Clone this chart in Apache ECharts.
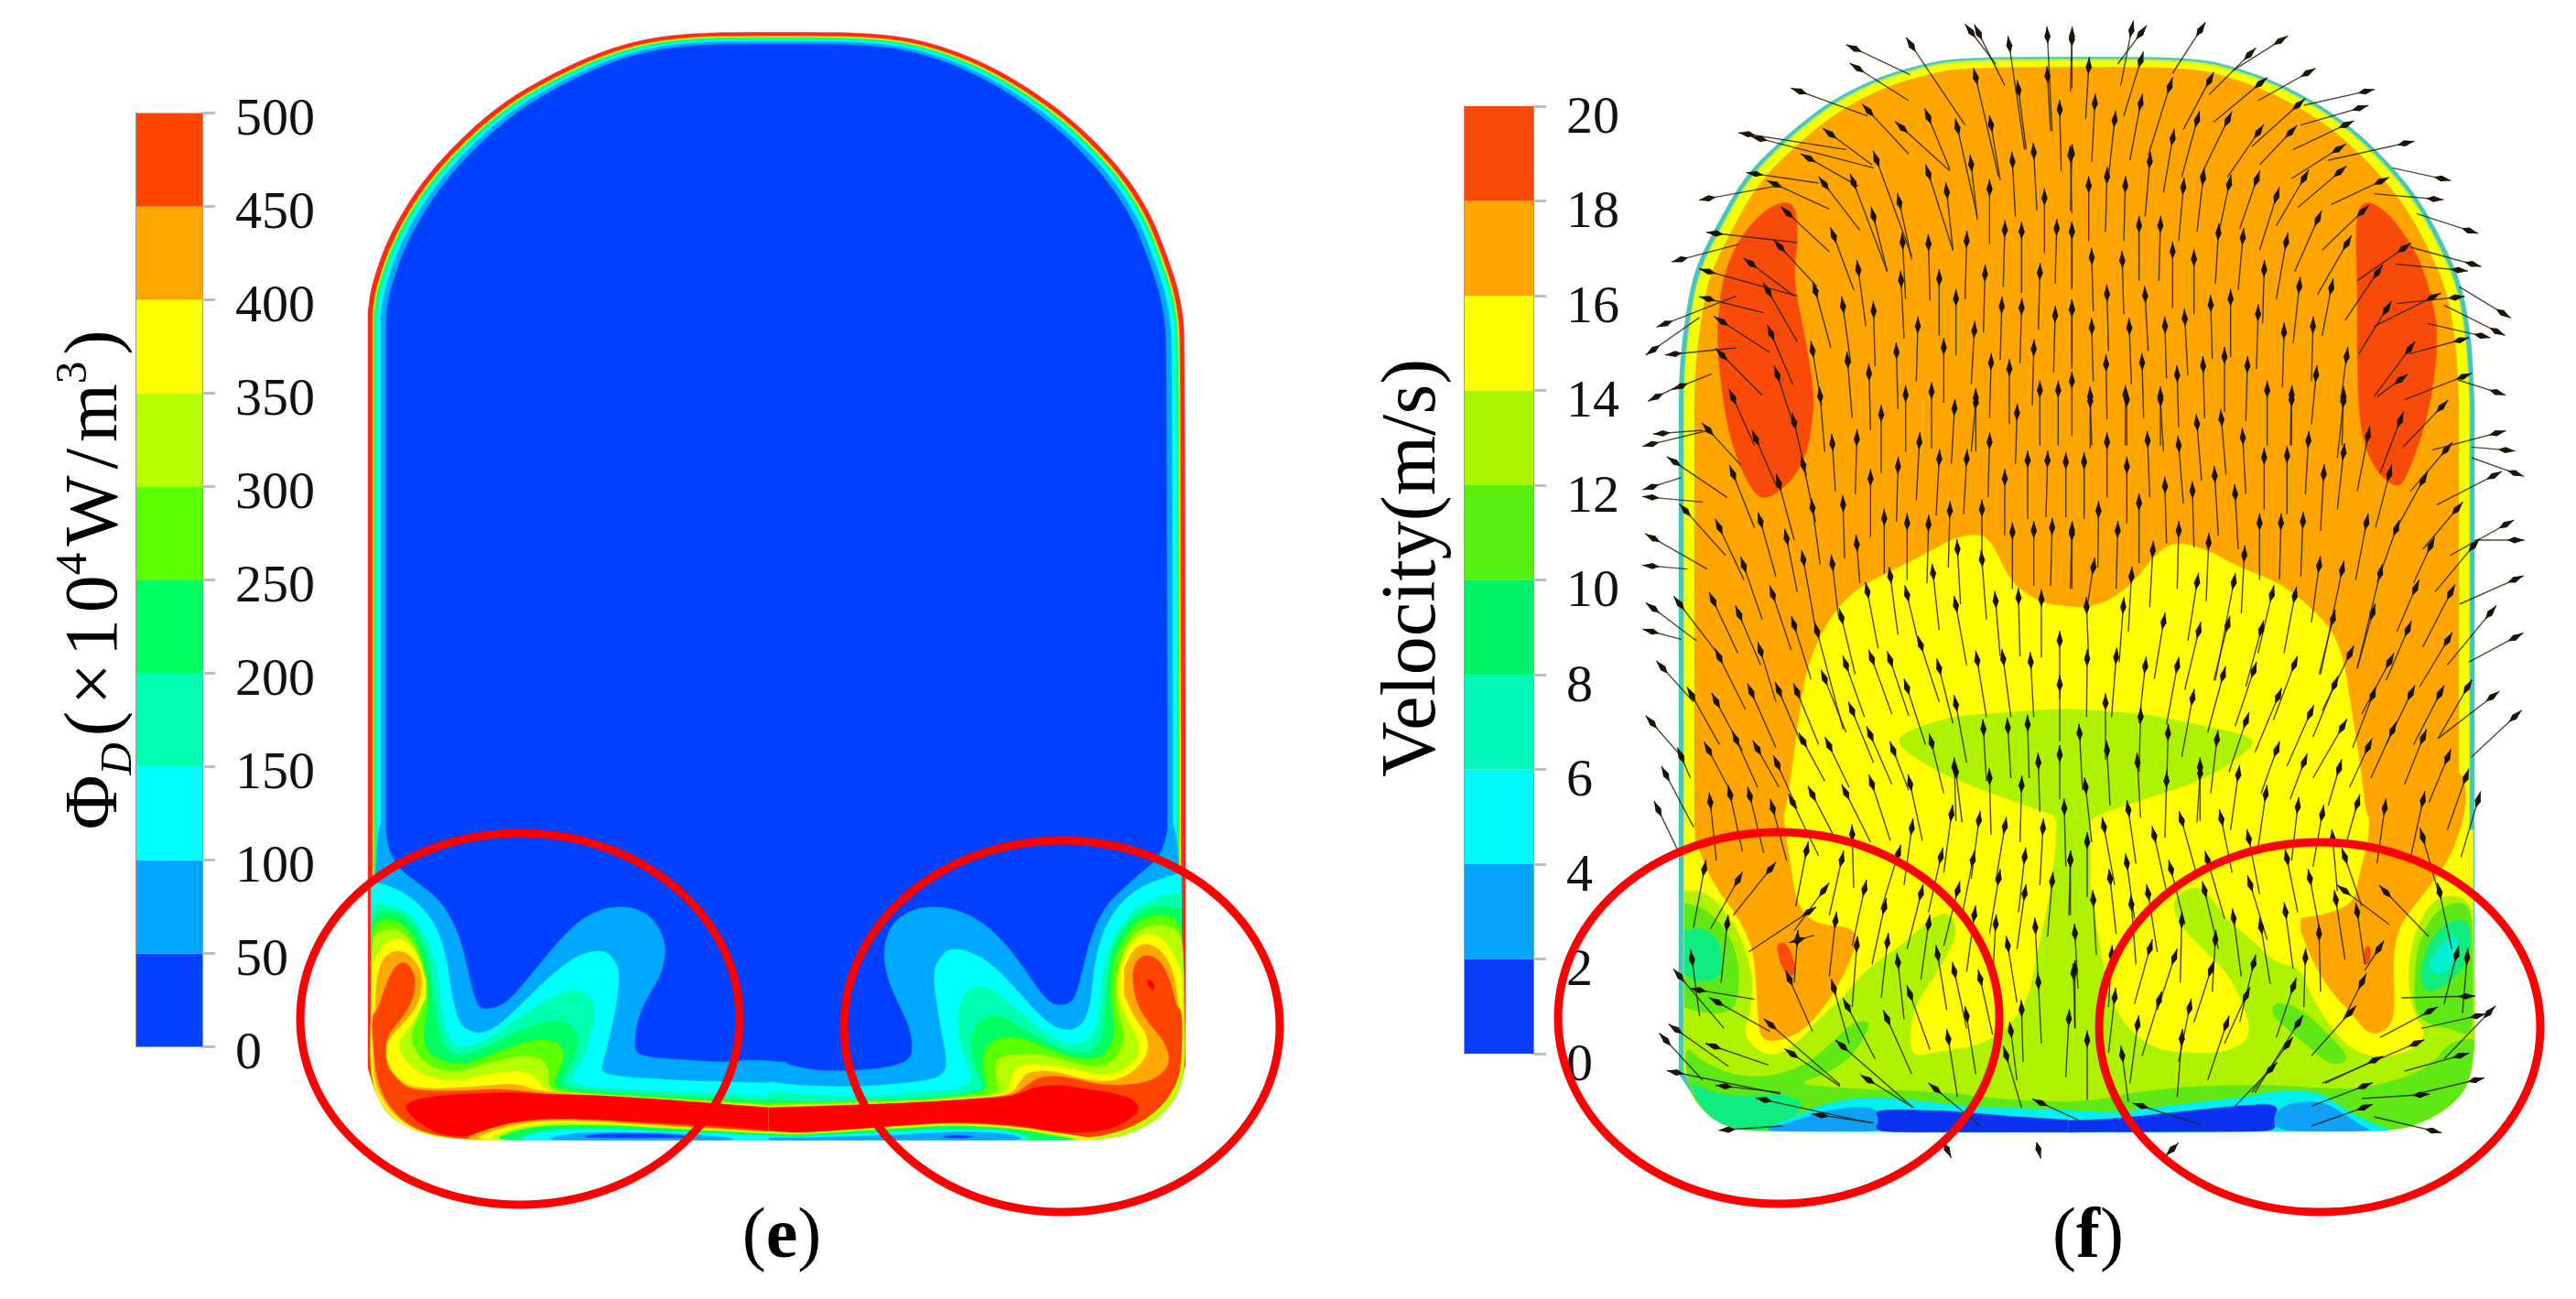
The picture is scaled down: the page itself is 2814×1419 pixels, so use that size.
<!DOCTYPE html>
<html>
<head>
<meta charset="utf-8">
<title>Dissipation and velocity contours</title>
<style>
  html, body { margin: 0; padding: 0; background: #fff; }
  #chart { width: 2814px; height: 1419px; }
</style>
<script src="https://cdn.jsdelivr.net/npm/echarts@6/dist/echarts.min.js"></script>
</head>
<body>
<div id="chart"></div>
<script>
// Colour bars
const barTicksE = [0, 50, 100, 150, 200, 250, 300, 350, 400, 450, 500];
const barTicksF = [0, 2, 4, 6, 8, 10, 12, 14, 16, 18, 20];
const barColorsE = ["#0040ff", "#00a8ff", "#00ffff", "#00ffb0", "#00ff60", "#5cff00", "#b4ff00", "#ffff00", "#ffa800", "#ff4400"];
const barColorsF = ["#0a3cf5", "#08a4fa", "#00f8f8", "#00f8b8", "#00f06a", "#58f010", "#aaf400", "#ffff00", "#ffa500", "#f84a08"];

// Shell outlines (page px)
const shellE = [[402,377],[402,340],[406,310],[427,252],[470,185],[539,118],[607,78],[675,49],[744,36],[850,35],[966,36],[1034,51],[1103,82],[1180,136],[1248,212],[1282,297],[1292,340],[1294,377],[1295,800],[1295,1163],[1287,1193],[1267,1220],[1233,1238],[1200,1245],[850,1245],[487,1243],[447,1233],[423,1217],[410,1193],[402,1167],[402,800]];
const shellF = [[1834,440],[1835,400],[1840,353],[1850,297],[1873,250],[1907,190],[1957,143],[2000,110],[2050,85],[2093,72],[2137,63],[2270,62],[2400,63],[2447,75],[2493,92],[2547,122],[2593,160],[2640,213],[2670,267],[2690,313],[2700,373],[2703,440],[2703,800],[2703,1140],[2698,1180],[2683,1203],[2653,1223],[2618,1235],[2270,1236],[1917,1235],[1883,1230],[1860,1213],[1845,1190],[1834,1173],[1834,800]];
const rimE = [[0,0,"#ff2a1a"],[5,4,"#c8f000"],[7,6,"#00ff90"],[10,8,"#00ffff"],[14,10,"#00a8ff"],[20,13,"#0040ff"]];
const rimF = [[0,0,"#48c4b8"],[5,2,"#a8ec60"],[6,4,"#f4ff00"],[17,11,"#ffa500"]];

// Panel e, lower left (crop units: 3 per px)
const eCornerL = [[1410,1035],[300,1033],[175,995],[110,940],[70,878],[50,800]];
const eL1 = [[62,150],[70,0],[92,0],[100,70],[125,130],[160,165],[215,205],[270,250],[315,320],[345,400],[370,510],[385,570],[405,610],[470,600],[520,555],[590,470],[660,385],[730,315],[800,280],[860,270],[920,278],[975,315],[1008,380],[1010,440],[990,505],[950,570],[925,625],[912,680],[908,745],[945,765],[1100,775],[1210,782],[1290,772],[1410,782],...eCornerL,[50,300]];
const eL2 = [[46,190],[100,200],[170,235],[230,290],[270,360],[295,450],[310,560],[330,640],[350,670],[400,690],[460,665],[540,590],[620,510],[700,445],[760,418],[815,415],[850,455],[860,500],[850,590],[830,690],[805,780],[800,810],[830,825],[1000,838],[1200,845],[1410,850],...eCornerL,[46,600]];
const eL3 = [[46,260],[90,258],[160,285],[215,345],[250,430],[270,530],[280,630],[300,710],[350,735],[420,710],[520,640],[620,575],[700,542],[745,545],[775,585],[775,650],[750,750],[715,810],[700,845],[750,862],[1000,875],[1200,885],[1410,895],...eCornerL];
const eL4 = [[46,300],[100,280],[160,300],[210,370],[235,450],[250,560],[260,640],[280,720],[310,760],[380,750],[460,715],[560,665],[640,640],[690,650],[725,685],[720,750],[690,800],[670,850],[710,870],[1000,890],[1410,910],...eCornerL];
const eL5 = [[46,325],[100,310],[150,325],[195,385],[222,470],[235,560],[225,640],[215,700],[235,755],[290,780],[350,790],[440,755],[530,720],[610,703],[670,720],[680,770],[660,810],[640,860],[700,878],[1000,895],[1410,920],...eCornerL];
const eL6 = [[46,370],[90,345],[135,345],[180,385],[215,460],[225,540],[205,620],[180,680],[180,720],[215,780],[280,810],[350,810],[440,780],[540,758],[600,765],[630,800],[625,845],[640,875],[700,880],[1000,900],[1410,925],...eCornerL];
const eL7 = [[48,460],[80,405],[110,380],[150,375],[195,420],[225,510],[225,570],[190,640],[145,700],[135,730],[160,780],[210,820],[280,840],[350,840],[430,820],[510,810],[570,815],[605,860],[635,880],[900,895],[1410,930],[1410,1035],[290,1033],[170,1000],[100,950],[60,880],[42,800],[46,600]];
const eL8 = [[60,600],[65,500],[85,440],[120,415],[165,420],[205,470],[215,520],[200,590],[165,640],[115,690],[92,730],[100,790],[130,830],[170,860],[240,868],[330,865],[430,858],[520,850],[590,875],[900,900],[1410,932],[1410,1035],[330,1033],[175,995],[108,940],[70,878],[52,810]];
const eL9 = [[46,630],[68,610],[90,540],[115,480],[145,450],[175,465],[192,510],[185,570],[155,625],[120,665],[93,710],[95,790],[125,830],[165,868],[240,875],[360,875],[450,868],[540,875],[610,885],[900,902],[1410,935],[1410,1035],[340,1033],[230,1015],[165,985],[110,930],[80,880],[58,800]];
const eCoreL = [[155,915],[230,895],[350,885],[500,880],[600,885],[800,890],[1000,903],[1200,918],[1410,935],[1410,1010],[1200,990],[1000,980],[800,970],[620,968],[520,980],[430,1010],[350,1025],[280,1020],[210,985],[170,950]];
const eW1 = [[340,1036],[420,1002],[520,976],[650,966],[800,971],[1000,986],[1410,1012],[1410,1036]];
const eW2 = [[380,1036],[440,1008],[530,982],[650,972],[800,977],[1000,990],[1410,1014],[1410,1036]];
const eW3 = [[420,1036],[480,1008],[560,988],[660,979],[800,982],[1000,993],[1410,1016],[1410,1036]];
const eW4 = [[440,1036],[520,1005],[620,988],[800,987],[1000,998],[1410,1019],[1410,1036]];
const eW5 = [[500,1036],[620,1004],[760,998],[1000,1006],[1410,1025],[1410,1036]];
const eW6 = [[600,1036],[720,1010],[1000,1012],[1200,1025],[1250,1036]];
const eW7 = [[720,1028],[800,1014],[1000,1015],[1120,1028]];

// Panel e, lower right (crop units)
const eCornerR = [[0,1035],[1060,1032],[1170,1008],[1270,952],[1330,875],[1352,790]];
const eR1 = [[1345,150],[1330,0],[1310,0],[1295,70],[1270,120],[1225,155],[1170,205],[1120,250],[1080,310],[1050,390],[1030,470],[1010,550],[990,590],[930,597],[880,540],[820,450],[750,365],[680,310],[610,280],[540,270],[470,280],[410,320],[385,370],[375,435],[390,510],[425,590],[455,650],[472,720],[465,770],[410,795],[300,808],[180,810],[110,800],[50,785],[0,778],...eCornerR,[1352,300]];
const eR2 = [[1352,160],[1300,175],[1230,200],[1160,250],[1110,320],[1080,400],[1065,480],[1055,580],[1035,650],[990,680],[930,665],[870,610],[800,530],[720,450],[650,415],[590,408],[560,440],[540,475],[545,560],[565,680],[585,780],[570,825],[500,845],[300,862],[100,858],[0,845],...eCornerR];
const eR3 = [[1352,225],[1290,235],[1220,260],[1170,310],[1120,390],[1095,480],[1085,580],[1075,660],[1040,715],[990,725],[920,695],[840,630],[750,555],[690,525],[640,555],[615,620],[620,700],[650,790],[670,850],[600,872],[300,895],[0,880],...eCornerR];
const eR4 = [[1352,280],[1280,265],[1210,290],[1160,340],[1120,410],[1110,500],[1100,600],[1095,690],[1060,750],[990,752],[920,720],[830,670],[760,625],[700,635],[665,680],[660,750],[690,830],[705,880],[500,898],[300,915],[0,905],...eCornerR];
const eR5 = [[1355,320],[1290,295],[1220,310],[1170,360],[1130,440],[1120,530],[1125,620],[1135,690],[1105,755],[1050,775],[970,760],[880,720],[800,695],[730,710],[700,750],[705,830],[720,880],[500,903],[0,915],...eCornerR];
const eR6 = [[1357,360],[1300,330],[1230,335],[1180,380],[1150,450],[1135,540],[1145,620],[1170,700],[1140,770],[1080,800],[1000,785],[900,755],[800,755],[740,770],[745,840],[760,885],[500,906],[0,922],[0,1035],[1080,1037],[1185,1017],[1285,962],[1345,880],[1365,790]];
const eR7 = [[1355,500],[1325,420],[1280,365],[1220,360],[1170,410],[1145,490],[1145,570],[1180,650],[1215,715],[1210,770],[1150,815],[1080,825],[980,800],[880,785],[810,795],[790,850],[780,888],[500,912],[0,926],[0,1035],[1060,1032],[1170,1008],[1270,952],[1330,875],[1355,790]];
const eR8 = [[1342,600],[1330,500],[1300,430],[1250,390],[1200,400],[1165,470],[1165,560],[1195,630],[1240,690],[1245,750],[1200,810],[1130,845],[1040,840],[940,810],[850,810],[820,850],[790,890],[500,914],[0,928],[0,1035],[1040,1030],[1150,1000],[1255,940],[1320,870],[1348,790]];
const eR9 = [[1355,610],[1335,600],[1320,530],[1290,455],[1240,425],[1200,450],[1190,510],[1205,590],[1250,660],[1295,710],[1315,770],[1300,810],[1240,850],[1100,860],[960,825],[880,830],[830,870],[790,893],[500,915],[0,930],[0,1035],[1000,1032],[1110,1020],[1210,985],[1290,925],[1335,855],[1352,790]];
const eCoreR = [[0,931],[200,925],[500,912],[780,895],[820,885],[880,860],[960,855],[1040,870],[1120,880],[1190,900],[1215,930],[1190,965],[1120,1000],[1040,1012],[950,1010],[800,985],[600,975],[400,990],[300,998],[100,1012],[0,1007]];
const eSpotR = [[1238,505],[1265,525],[1260,548],[1242,530]];
const eX1 = [[0,1007],[100,1014],[300,1000],[400,992],[600,980],[800,990],[950,1014],[1040,1026],[1080,1036],[0,1036]];
const eX2 = [[0,1011],[100,1016],[200,1008],[400,996],[600,984],[800,994],[950,1020],[1050,1036],[0,1036]];
const eX3 = [[0,1015],[100,1020],[300,1006],[600,988],[800,998],[960,1026],[1020,1036],[0,1036]];
const eX4 = [[0,1022],[100,1024],[350,1012],[600,998],[780,1005],[880,1036],[0,1036]];
const eX5 = [[0,1028],[100,1029],[400,1020],[600,1008],[780,1012],[850,1036],[0,1036]];
const eX6 = [[560,1026],[620,1018],[680,1026],[620,1030]];

// Panel f contours. Crop units, the mid crop is the reference for the yellow body
const fRedL = [[570,598],[605,620],[612,720],[600,820],[605,900],[635,1040],[665,1230],[660,1320],[640,1430],[590,1520],[500,1585],[450,1530],[400,1410],[370,1280],[350,1100],[350,1000],[365,850],[420,720],[500,630]];
const fRedR = [[970,595],[1030,625],[1080,680],[1140,770],[1180,880],[1205,1000],[1205,1100],[1190,1230],[1160,1360],[1100,1520],[1070,1535],[1020,1500],[970,1410],[950,1290],[945,1100],[945,900],[940,650]];
const fYellow = [[590,1260],[610,1100],[640,900],[700,760],[770,670],[840,620],[930,575],[1040,520],[1130,470],[1210,460],[1250,490],[1300,600],[1350,650],[1420,690],[1530,700],[1560,700],[1630,680],[1710,620],[1790,520],[1850,485],[1950,510],[2060,570],[2180,615],[2270,680],[2360,770],[2400,870],[2420,1000],[2440,1120],[2460,1260],[2480,1430],[2825,1430],[2825,2130],[2810,2240],[2765,2315],[2675,2375],[2570,2410],[480,2410],[375,2395],[305,2345],[260,2275],[240,2130],[240,1430],[560,1430]];
const fOrangeL = [[275,-10],[560,-10],[562,150],[590,330],[610,450],[670,510],[810,520],[790,620],[720,750],[640,850],[560,890],[490,890],[480,800],[470,600],[420,490],[330,370],[275,230]];
const fOrangeR = [[970,-10],[1290,-10],[1305,120],[1260,270],[1200,360],[1130,450],[1080,520],[1060,630],[1070,800],[1040,860],[980,870],[935,810],[850,720],[790,610],[760,530],[760,490],[870,470],[940,430],[950,350],[990,210]];
const fLime = [[240,400],[310,400],[395,490],[440,590],[465,690],[455,800],[430,880],[520,950],[610,900],[700,800],[760,750],[830,660],[950,580],[1060,480],[1110,470],[1140,540],[1060,680],[985,790],[975,945],[1060,930],[1240,900],[1360,785],[1402,584],[1444,384],[1465,156],[1423,142],[1234,75],[1065,8],[907,-99],[1107,-172],[1486,-199],[1760,-179],[2139,-99],[1970,22],[1823,75],[1612,142],[1570,169],[1570,384],[1612,651],[1660,820],[1780,925],[2000,935],[2110,880],[2040,690],[1940,590],[1870,520],[1830,430],[1930,370],[2010,490],[2100,560],[2180,640],[2260,650],[2290,740],[2380,880],[2470,945],[2590,940],[2680,880],[2620,780],[2610,650],[2640,510],[2710,410],[2825,425],[2830,900],[2815,1020],[2770,1090],[2680,1150],[2575,1185],[470,1188],[370,1170],[300,1120],[255,1050],[240,900]];
const fGreenBlobL = [[240,440],[290,450],[345,490],[395,560],[420,650],[415,760],[380,800],[300,800],[240,780]];
const fTealL = [[240,530],[300,520],[355,560],[365,640],[350,690],[280,700],[240,670]];
const fGreenBandL = [[235,900],[300,960],[400,1005],[520,1010],[640,970],[720,900],[790,830],[850,825],[830,880],[780,950],[700,1000],[600,1035],[830,1050],[1100,1060],[1300,1085],[1530,1092],[1530,1150],[470,1188],[370,1170],[300,1120],[255,1050]];
const fDeepGreenL = [[250,1020],[330,1060],[420,1075],[560,1060],[640,1100],[560,1170],[470,1188],[370,1170],[300,1120]];
const fCyanL = [[600,1140],[700,1095],[850,1072],[1000,1088],[1200,1108],[1530,1118],[1530,1190],[480,1188]];
const fSkyL = [[480,1186],[600,1155],[700,1120],[800,1108],[870,1112],[880,1150],[900,1188]];
const fBlueL = [[860,1115],[1100,1120],[1300,1138],[1530,1152],[1530,1190],[860,1190],[880,1150]];
const fSpotL = [[540,570],[580,570],[610,670],[580,680],[555,640]];
const fGreenBandR = [[0,1090],[100,1085],[200,1062],[400,1040],[640,1035],[900,1050],[1000,1040],[1120,1005],[1200,960],[1240,900],[1325,880],[1330,900],[1315,1020],[1270,1090],[1180,1150],[1075,1185],[0,1190]];
const fCyanR = [[0,1118],[150,1128],[350,1100],[540,1080],[700,1052],[830,1060],[900,1115],[1000,1165],[1070,1187],[0,1190]];
const fBlueR = [[0,1152],[150,1147],[300,1130],[540,1105],[690,1095],[670,1150],[680,1188],[0,1190]];
const fSkyR = [[670,1130],[720,1095],[830,1088],[900,1130],[960,1170],[1000,1187],[680,1187]];
const fGreenStripR = [[680,760],[770,790],[930,950],[860,975],[780,905],[720,855],[660,800]];
const fGreenBlobR = [[1135,640],[1150,560],[1210,450],[1320,430],[1325,880],[1250,850],[1180,840],[1130,790]];
const fTealR = [[1150,650],[1200,530],[1290,480],[1322,540],[1300,650],[1220,720],[1160,730]];
const fAquaR = [[1170,640],[1230,560],[1280,540],[1270,640],[1210,680]];
const fSpotR = [[970,580],[990,580],[985,640],[965,640]];

// Arrows: head x, head y, tail x, tail y (crop units)
const arrowsTL = [[800,100,980,185],[810,165,975,270],[985,90,1160,350],[1205,50,1290,220],[1180,45,1260,150],[1305,90,1355,430],[1430,60,1445,370],[1510,60,1505,240],[620,240,840,320],[450,380,770,430],[490,395,860,490],[320,590,540,550],[475,510,680,540],[540,545,715,625],[230,790,420,740],[345,705,610,735],[180,1000,410,910],[320,830,610,910],[320,920,500,965],[140,1085,290,980],[210,1100,410,1080],[230,1205,330,1165],[150,1240,230,1200],[845,305,975,445],[720,380,855,480],[955,360,1110,500],[1040,325,1110,495],[1195,195,1270,520],[1335,235,1360,430],[1430,190,1440,370],[1470,300,1475,500],[1135,360,1200,650],[1245,350,1275,530],[870,465,985,780],[650,460,810,550],[795,540,905,830],[700,545,815,695],[1040,510,1120,760],[1180,480,1200,660],[1315,470,1325,650],[1385,440,1395,630],[1505,450,1510,640],[945,605,985,790],[860,650,905,830],[1100,570,1120,760],[1240,560,1240,740],[1420,590,1420,770],[580,640,715,765],[555,750,675,880],[730,715,795,890],[955,735,965,920],[1040,740,1045,925],[1165,730,1160,920],[1290,695,1285,880],[1345,700,1345,900],[1460,690,1455,870],[1510,700,1510,890],[460,805,600,910],[515,895,610,1060],[670,895,720,1080],[810,825,835,1010],[950,860,960,1050],[1075,855,1075,1040],[1225,840,1220,1030],[1405,835,1400,1020],[365,995,520,1095],[760,945,785,1130],[860,960,865,1140],[1130,920,1130,1105],[1280,945,1275,1120],[1345,950,1340,1130],[1455,975,1450,1160],[1510,955,1510,1150],[525,1035,595,1200],[660,1090,690,1270],[1005,1010,1000,1190],[1190,1025,1180,1200],[935,1095,940,1280],[1090,1080,1090,1260],[1385,1085,1380,1270],[365,1105,495,1235],[545,1170,600,1340],[775,1125,790,1310],[1245,1130,1240,1310],[1305,1150,1305,1330],[845,1165,850,1350],[400,1245,470,1400],[965,1235,965,1420],[1050,1225,1050,1410],[1195,1245,1195,1420],[1405,1220,1405,1400],[1465,1220,1465,1400],[685,1240,700,1420]];
const arrowsTR = [[10,70,10,230],[235,50,160,150],[205,40,170,220],[430,40,340,180],[590,120,460,250],[690,75,540,170],[780,180,620,270],[970,240,770,285],[950,295,760,350],[1100,410,850,465],[1220,525,1060,490],[1195,592,1000,575],[1310,695,1140,640],[1320,805,1120,750],[1275,825,1070,805],[1420,965,1280,880],[1400,1025,1230,940],[1350,1040,1175,1000],[1265,915,1075,935],[1280,1055,1115,1100],[1400,1225,1275,1185],[1290,1175,1100,1250],[65,160,55,330],[235,140,180,320],[330,225,260,450],[460,205,375,365],[85,280,75,470],[150,335,130,520],[235,280,200,465],[625,215,475,340],[750,285,600,420],[520,335,430,520],[620,375,520,520],[420,335,370,520],[340,395,310,570],[725,375,625,480],[905,350,735,430],[880,430,730,525],[885,505,750,620],[770,525,680,680],[1020,535,860,610],[680,585,625,760],[615,530,560,690],[525,545,490,710],[440,525,420,700],[375,555,360,730],[265,470,250,650],[185,550,180,730],[125,520,120,700],[65,550,65,730],[10,445,5,630],[960,635,830,760],[815,660,740,830],[910,740,815,905],[570,720,555,890],[490,705,480,870],[712,735,680,920],[300,680,295,860],[230,680,230,860],[10,700,10,880],[1095,755,945,860],[640,825,635,1000],[755,880,735,1065],[860,885,830,1040],[410,790,410,970],[340,765,340,950],[175,795,180,970],[75,785,80,960],[1010,835,905,990],[1040,955,950,1100],[1190,915,1000,1010],[1115,1085,1000,1240],[1085,1185,1010,1240],[465,940,470,1115],[530,920,530,1110],[620,970,615,1150],[250,910,260,1090],[125,905,130,1090],[10,955,10,1130],[800,1010,795,1190],[705,1030,700,1210],[315,1010,320,1180],[380,985,390,1170],[198,1015,205,1200],[75,1015,80,1190],[910,1110,890,1260],[585,1140,580,1320],[510,1110,510,1290],[440,1140,445,1310],[355,1170,360,1340],[240,1130,245,1310],[122,1135,125,1315],[810,1170,795,1330],[650,1220,650,1400],[730,1235,725,1400],[900,1240,895,1400],[300,1240,300,1400],[185,1235,185,1400],[70,1240,75,1400],[10,1190,10,1370]];
const arrowsML = [[170,130,300,120],[135,165,320,120],[210,225,380,340],[135,305,230,275],[135,340,300,355],[245,385,375,530],[140,475,315,575],[135,565,250,575],[320,120,425,235],[225,690,355,860],[140,705,280,810],[135,780,230,805],[170,900,270,1010],[265,990,355,1150],[135,1080,240,1200],[230,1190,260,1260],[400,265,470,440],[475,150,545,310],[600,95,640,270],[550,295,600,480],[630,235,670,420],[490,420,540,600],[355,440,435,610],[660,375,685,560],[575,475,610,650],[435,565,495,740],[630,545,670,770],[725,560,745,730],[805,495,815,620],[885,70,885,260],[725,165,735,320],[805,150,800,330],[1010,160,1000,350],[1240,160,1235,340],[1075,215,1065,400],[940,240,935,420],[1165,215,1155,395],[850,280,850,470],[760,365,765,540],[895,410,895,590],[970,425,970,610],[1040,430,1035,620],[1110,385,1105,570],[1215,380,1215,560],[1290,280,1290,465],[1365,220,1365,410],[1430,220,1425,405],[1490,225,1490,405],[1315,455,1315,640],[1385,450,1385,630],[1445,440,1440,630],[1510,450,1505,640],[1330,65,1325,230],[1125,50,1115,230],[1195,30,1180,190],[335,680,415,850],[420,725,490,890],[530,660,590,840],[600,760,655,935],[675,780,760,1100],[755,735,800,920],[840,650,875,835],[915,600,940,790],[970,660,1010,830],[1055,590,1075,775],[1135,510,1145,690],[1215,545,1230,740],[1130,695,1165,890],[1260,680,1275,860],[1335,670,1340,860],[1410,675,1410,865],[490,845,540,1010],[355,865,440,1035],[770,890,830,1060],[700,935,770,1110],[855,870,920,1050],[915,875,975,1055],[1015,825,1075,1010],[1075,900,1120,1080],[1200,875,1230,1060],[1285,870,1310,1060],[1375,880,1385,1060],[1470,810,1470,1000],[550,975,625,1150],[610,980,680,1150],[460,980,540,1160],[345,1010,430,1170],[970,965,1030,1150],[1130,1020,1165,1210],[1470,955,1470,1140],[410,1135,480,1290],[480,1165,550,1290],[790,1040,860,1210],[850,1120,920,1280],[630,1140,700,1270],[715,1155,780,1290],[925,1170,975,1300],[1050,1145,1090,1310],[320,1170,400,1320],[1220,1100,1230,1270],[1300,1095,1310,1260],[1365,1085,1370,1260],[1470,1185,1470,1330],[1125,1225,1130,1400],[1400,1210,1405,1370],[545,1215,610,1360]];
const arrowsMR = [[70,25,70,180],[190,20,190,170],[300,20,310,190],[730,20,730,170],[900,25,880,210],[420,100,435,285],[500,85,515,265],[125,160,125,340],[258,155,265,340],[360,170,375,360],[570,145,580,330],[785,155,775,330],[50,225,50,410],[190,240,190,425],[640,210,640,380],[715,205,715,395],[900,195,880,380],[980,140,945,320],[1085,90,1020,260],[1220,45,1095,175],[315,305,320,490],[478,270,490,465],[405,320,410,505],[230,360,230,555],[97,385,95,570],[545,330,555,510],[835,265,825,450],[1050,265,1005,440],[1160,285,1075,440],[1235,185,1120,320],[1400,130,1190,185],[1430,185,1320,175],[1460,260,1320,210],[1390,270,1205,365],[1270,380,1160,510],[1185,500,1130,620],[1430,430,1250,530],[1460,480,1330,480],[1325,500,1200,650],[1460,610,1280,690],[1380,720,1240,890],[1460,800,1310,880],[1385,995,1210,1130],[1460,1060,1320,1190],[1250,655,1160,830],[1240,810,1150,960],[1135,640,1075,780],[10,460,10,640],[160,450,155,640],[360,450,355,640],[458,490,450,680],[275,515,265,700],[80,570,60,700],[205,600,195,780],[625,425,625,610],[695,425,690,610],[767,420,760,600],[975,425,940,610],[1072,445,1010,620],[575,530,565,720],[820,565,795,750],[895,580,825,920],[1020,590,945,900],[58,700,65,870],[178,700,165,880],[420,620,390,810],[540,620,480,940],[665,660,620,850],[740,665,705,850],[865,740,820,920],[310,750,280,935],[520,760,475,940],[425,780,380,970],[630,775,580,960],[995,720,945,900],[1110,775,1040,940],[60,870,58,1060],[155,865,140,1060],[250,895,230,1080],[355,895,320,1085],[605,910,545,1090],[738,890,670,1070],[920,855,830,1040],[1050,880,960,1050],[505,925,455,1110],[120,1015,120,1200],[405,1000,370,1190],[685,995,610,1175],[870,955,800,1125],[995,990,930,1160],[1120,985,1040,1150],[1215,985,1130,1150],[1305,965,1210,1130],[235,1060,230,1240],[580,1075,525,1240],[790,1050,715,1220],[895,1095,800,1260],[1060,1105,990,1260],[1160,1130,1100,1280],[1240,1195,1180,1340],[35,1115,45,1300],[125,1170,135,1350],[325,1115,320,1300],[485,1135,465,1310],[680,1170,630,1310],[980,1160,920,1290],[770,1210,725,1330],[225,1210,235,1390],[430,1225,430,1400],[885,1230,850,1350]];
const arrowsBL = [[180,20,270,190],[155,135,225,280],[325,110,345,300],[390,85,430,270],[455,90,500,275],[530,130,575,300],[595,110,680,285],[660,85,735,230],[770,80,850,240],[855,50,915,235],[980,50,1020,235],[1130,10,1150,175],[1240,30,1245,215],[1345,55,1340,240],[1485,130,1490,320],[790,215,795,390],[985,195,960,380],[1115,150,1090,340],[1205,170,1180,360],[1290,190,1260,370],[1415,195,1405,380],[640,270,605,450],[755,300,715,480],[940,280,885,460],[1080,290,1040,470],[1185,300,1150,480],[1355,290,1335,470],[1505,300,1500,480],[305,330,270,520],[415,365,325,525],[520,330,400,480],[695,400,600,530],[830,395,790,580],[1015,410,970,590],[1135,400,1090,580],[1270,360,1240,540],[1355,410,1330,590],[1445,370,1430,550],[645,470,450,600],[895,455,855,640],[1190,480,1165,665],[1040,510,1015,690],[1260,510,1250,690],[1390,520,1400,700],[380,510,360,700],[735,500,715,680],[610,560,600,700],[615,560,665,545],[805,580,790,780],[905,570,885,750],[1300,580,1330,765],[1520,660,1520,850],[265,625,290,810],[940,635,960,820],[1070,610,1100,790],[1125,665,1165,850],[1400,700,1410,900],[1210,690,1250,870],[225,680,370,850],[585,690,660,860],[290,725,470,755],[730,720,780,900],[980,740,1045,920],[350,765,520,860],[775,780,865,950],[905,820,985,1000],[1165,810,1195,1000],[1345,790,1350,960],[1500,820,1490,1010],[525,840,750,1035],[215,855,385,975],[1105,885,1135,1075],[1310,860,1330,1020],[760,910,990,1110],[180,890,300,1020],[340,910,515,970],[595,935,750,1040],[1295,940,1345,1110],[215,995,555,1065],[375,1040,555,1060],[505,1085,850,1160],[845,1020,990,1110],[1065,1050,1210,1170],[1410,1095,1530,1150],[690,1135,860,1160],[385,1182,560,1170],[1100,1245,1090,1225],[1400,1245,1395,1225]];
const arrowsBR = [[55,60,75,240],[195,135,220,310],[320,40,315,225],[430,15,420,175],[555,20,530,200],[645,85,620,260],[750,125,730,300],[830,150,800,320],[945,115,910,240],[1035,130,1010,310],[1160,105,1120,290],[1300,30,1240,200],[1340,105,1285,290],[115,190,150,380],[60,240,60,420],[280,220,320,400],[370,170,420,350],[500,165,535,340],[590,230,625,410],[715,295,750,470],[905,290,960,450],[1160,225,1210,400],[865,230,880,400],[5,300,5,480],[190,310,215,490],[335,330,380,510],[455,300,510,490],[135,360,155,540],[790,360,825,545],[595,380,650,560],[905,400,1050,510],[1040,405,1180,550],[1215,405,1255,590],[875,430,905,625],[80,430,90,610],[205,445,220,640],[260,410,290,600],[445,400,490,590],[945,470,970,640],[710,470,735,655],[540,490,565,680],[370,500,365,700],[630,520,660,705],[480,560,470,730],[820,540,825,730],[20,540,30,720],[265,590,215,770],[140,610,130,780],[1015,590,970,660],[1270,610,1230,770],[1305,620,1290,800],[345,620,290,790],[605,640,560,830],[775,620,770,780],[465,660,410,830],[15,670,20,850],[960,700,900,820],[735,715,680,880],[295,760,240,940],[150,750,130,930],[580,745,510,900],[395,785,360,960],[1180,795,1020,880],[1300,745,1090,750],[920,800,795,940],[1335,810,1155,850],[1375,800,1230,950],[225,840,200,1030],[515,840,455,1020],[750,835,610,1060],[370,885,355,1075],[715,905,600,1060],[1135,900,830,1030],[60,890,60,1085],[175,940,195,1090],[1280,940,1100,990],[660,985,545,1105],[1000,955,840,1030],[965,1040,795,1105],[1330,1020,1140,1065],[1150,1068,960,1080],[965,1110,795,1170],[240,1105,430,1165],[1190,1185,1000,1140],[340,1245,360,1225]];

// Marker ellipses: centre x, centre y, radius x, radius y (page px)
const ellipses = [[568,1113,240,203],[1160,1121,238,203],[1943,1112,241,203],[2534,1122,241,202]];

// Crop windows: left, top, width, height in page px, 3 axis units per px. Index 0 is the page itself.
const windows = [[0,0,2814,1419,1],[390,900,470,360,3],[840,900,470,360,3],[1760,430,510,420,3],[1760,840,510,420,3],[2260,840,510,420,3],[1760,20,510,420,3],[2260,20,510,420,3],[2260,430,510,420,3]];
const PAGE = 0, E_LEFT = 1, E_RIGHT = 2, F_MID = 3, F_BL = 4, F_BR = 5, F_TL = 6, F_TR = 7, F_MR = 8;

const ORANGE_RED = "#ff4400", ORANGE = "#ffa800", YEL = "#ffff00", LIME = "#b4ff00", GRN = "#5cff00", GRN2 = "#00ff60", TEAL = "#00ffb0", CYAN = "#00ffff", SKY = "#00a8ff", BLUE = "#0040ff", RED = "#ff0000";
const F_ORANGE = "#ffa500", F_RED = "#f84a08", F_LIME = "#aef200", F_GREEN = "#5fe815", F_TEAL = "#10ec80", F_CYAN = "#00f0f0", F_SKY = "#10a0f8", F_BLUE = "#0a30f0";

function insetOutline(points, ix, iy) {
  const xs = points.map((p) => p[0]);
  const ys = points.map((p) => p[1]);
  const x0 = Math.min(...xs), x1 = Math.max(...xs), y0 = Math.min(...ys), y1 = Math.max(...ys);
  const cx = (x0 + x1) / 2, cy = (y0 + y1) / 2;
  const kx = 1 - ix / ((x1 - x0) / 2), ky = 1 - iy / ((y1 - y0) / 2);
  return points.map((p) => [cx + (p[0] - cx) * kx, cy + (p[1] - cy) * ky]);
}

// Corner cutting in px: rounds the contour without overshooting. Exactly vertical
// edges are the seams between crops, those keep their corners so the crops butt up.
function roundCorners(points, passes, cap) {
  let pts = points;
  for (let k = 0; k < passes; k++) {
    const out = [];
    for (let i = 0; i < pts.length; i++) {
      const p = pts[i], q = pts[(i + 1) % pts.length];
      const dx = q[0] - p[0], dy = q[1] - p[1];
      const len = Math.hypot(dx, dy) || 1;
      const c = dx === 0 ? 0 : Math.min(len * 0.25, cap);
      out.push([p[0] + dx / len * c, p[1] + dy / len * c]);
      out.push([q[0] - dx / len * c, q[1] - dy / len * c]);
    }
    pts = out;
  }
  return pts;
}

// One custom series of filled contours, painted in list order
function contourSeries(win, layers, cap) {
  return {
    type: "custom",
    coordinateSystem: "cartesian2d",
    xAxisIndex: win,
    yAxisIndex: win,
    silent: true,
    animation: false,
    data: layers.map((l, i) => [i]),
    renderItem(params, api) {
      const layer = layers[api.value(0)];
      return {
        type: "polygon",
        shape: { points: roundCorners(layer[1].map((p) => api.coord(p)), 3, cap || 14) },
        style: { fill: layer[0], stroke: layer[0], lineWidth: 0.4 },
      };
    },
  };
}

function arrowSeries(win, arrows) {
  return {
    type: "custom",
    coordinateSystem: "cartesian2d",
    xAxisIndex: win,
    yAxisIndex: win,
    silent: true,
    animation: false,
    data: arrows,
    dimensions: ["hx", "hy", "tx", "ty"],
    encode: { x: [0, 2], y: [1, 3] },
    renderItem(params, api) {
      const h = api.coord([api.value(0), api.value(1)]);
      const t = api.coord([api.value(2), api.value(3)]);
      const len = Math.hypot(h[0] - t[0], h[1] - t[1]) || 1;
      const ux = (h[0] - t[0]) / len, uy = (h[1] - t[1]) / len;
      const tip = [h[0] + ux * 11, h[1] + uy * 11];
      const back = [h[0] - ux * 8, h[1] - uy * 8];
      return {
        type: "group",
        children: [
          { type: "line", shape: { x1: t[0], y1: t[1], x2: tip[0], y2: tip[1] }, style: { stroke: "rgba(35,30,5,0.8)", lineWidth: 1.4 } },
          { type: "polygon", shape: { points: [tip, [h[0] - uy * 3.4, h[1] + ux * 3.4], back, [h[0] + uy * 3.4, h[1] - ux * 3.4]] }, style: { fill: "#1c1408" } },
        ],
      };
    },
  };
}

const rimLayers = (shell, rim) => rim.map((r) => [r[2], insetOutline(shell, r[0], r[1])]);

const contourE = [
  contourSeries(PAGE, rimLayers(shellE, rimE), 40),
  contourSeries(E_LEFT, [[SKY, eL1], [CYAN, eL2], [TEAL, eL3], [GRN2, eL4], [GRN, eL5], [LIME, eL6], [YEL, eL7], [ORANGE, eL8], [ORANGE_RED, eL9], [RED, eCoreL], [ORANGE, eW1], [YEL, eW2], [LIME, eW3], [GRN2, eW4], [CYAN, eW5], [SKY, eW6], [BLUE, eW7]]),
  contourSeries(E_RIGHT, [[SKY, eR1], [CYAN, eR2], [TEAL, eR3], [GRN2, eR4], [GRN, eR5], [LIME, eR6], [YEL, eR7], [ORANGE, eR8], [ORANGE_RED, eR9], [RED, eCoreR], [RED, eSpotR], [YEL, eX1], [LIME, eX2], [GRN2, eX3], [CYAN, eX4], [SKY, eX5], [BLUE, eX6]]),
];
const contourF = [
  contourSeries(PAGE, rimLayers(shellF, rimF), 40),
  contourSeries(F_TL, [[F_RED, fRedL]]),
  contourSeries(F_TR, [[F_RED, fRedR]]),
  contourSeries(F_MID, [[YEL, fYellow]]),
  contourSeries(F_BL, [[F_ORANGE, fOrangeL]]),
  contourSeries(F_BR, [[F_ORANGE, fOrangeR]]),
  contourSeries(F_BL, [[F_LIME, fLime]]),
  contourSeries(F_BL, [[F_GREEN, fGreenBlobL], [F_TEAL, fTealL], [F_GREEN, fGreenBandL], [F_TEAL, fDeepGreenL], [F_CYAN, fCyanL], [F_SKY, fSkyL], [F_BLUE, fBlueL], [F_RED, fSpotL]]),
  contourSeries(F_BR, [[F_GREEN, fGreenBandR], [F_CYAN, fCyanR], [F_BLUE, fBlueR], [F_SKY, fSkyR], [F_GREEN, fGreenStripR], [F_GREEN, fGreenBlobR], [F_TEAL, fTealR], ["#00f0d0", fAquaR], [F_RED, fSpotR]]),
];
const arrowsF = [
  arrowSeries(F_TL, arrowsTL),
  arrowSeries(F_TR, arrowsTR),
  arrowSeries(F_MID, arrowsML),
  arrowSeries(F_MR, arrowsMR),
  arrowSeries(F_BL, arrowsBL),
  arrowSeries(F_BR, arrowsBR),
];
const ellipseSeries = {
  type: "custom",
  coordinateSystem: "cartesian2d",
  xAxisIndex: PAGE,
  yAxisIndex: PAGE,
  silent: true,
  animation: false,
  data: ellipses,
  renderItem(params, api) {
    const c = api.coord([api.value(0), api.value(1)]);
    const r = api.size([api.value(2), api.value(3)]);
    return {
      type: "ellipse",
      shape: { cx: c[0], cy: c[1], rx: r[0], ry: r[1] },
      style: { fill: "none", stroke: "#ff0000", lineWidth: 9 },
    };
  },
};

const hiddenAxis = (max, inverse) => ({ type: "value", min: 0, max: max, inverse: !!inverse, show: false });
const grids = windows.map((w) => ({ left: w[0], top: w[1], width: w[2], height: w[3] }));
const xAxes = windows.map((w) => hiddenAxis(w[2] * w[4]));
const yAxes = windows.map((w) => hiddenAxis(w[3] * w[4], true));

const SERIF = "Liberation Serif";
function barRich(size) {
  return {
    t: { fontFamily: SERIF, fontSize: size, color: "#000", lineHeight: size * 1.2 },
    sub: { fontFamily: SERIF, fontSize: size * 0.6, fontStyle: "italic", color: "#000", verticalAlign: "bottom", lineHeight: size * 1.2 },
    sup: { fontFamily: SERIF, fontSize: size * 0.6, color: "#000", verticalAlign: "top", lineHeight: size * 1.2 },
  };
}

// Colour bar: stacked segments on their own value axis, plus a bare axis line on the left
function addColorBar(opt, box, ticks, colors, name, labelLine) {
  const gridIndex = opt.grid.length;
  opt.grid.push({ left: box[0], top: box[1], width: box[2], height: box[3] });
  opt.xAxis.push({ type: "category", gridIndex, data: [""], show: false });
  const top = ticks[ticks.length - 1];
  const step = ticks[1] - ticks[0];
  const yIndex = opt.yAxis.length;
  opt.yAxis.push({
    type: "value", gridIndex, min: 0, max: top, interval: step, position: "right", splitLine: { show: false },
    axisLine: { show: true, lineStyle: { color: "#9a9a9a", width: 2 } },
    axisTick: { show: true, length: 14, lineStyle: { color: "#bdbdbd", width: 3 } },
    axisLabel: { margin: 36, fontFamily: SERIF, fontSize: 58, color: "#111", verticalAlign: "top", lineHeight: labelLine, showMinLabel: true, showMaxLabel: true, hideOverlap: false },
  });
  opt.yAxis.push({
    type: "value", gridIndex, min: 0, max: top, interval: step, position: "left", splitLine: { show: false },
    axisLine: { show: true, lineStyle: { color: "#9a9a9a", width: 2 } }, axisTick: { show: false }, axisLabel: { show: false },
    name: name.text, nameLocation: "middle", nameRotate: 90, nameGap: name.gap,
    nameTextStyle: { rich: barRich(name.size), fontFamily: SERIF, fontSize: name.size, color: "#000", padding: name.padding || 0 },
  });
  colors.forEach((c) => {
    opt.series.push({
      type: "bar", xAxisIndex: opt.xAxis.length - 1, yAxisIndex: yIndex, stack: "bar" + gridIndex, barWidth: "100%", silent: true, animation: false,
      data: [step], itemStyle: { color: c }, z: 1,
    });
  });
}

const captionRich = {
  a: { fontFamily: SERIF, fontSize: 78, fontWeight: "normal", color: "#000" },
  b: { fontFamily: SERIF, fontSize: 78, fontWeight: "bold", color: "#000" },
};

const option = {
  animation: false,
  backgroundColor: "#fff",
  title: [
    { text: "{a|(}{b|e}{a|)}", left: 849, top: 1309, textAlign: "center", textStyle: { fontWeight: "normal", rich: captionRich } },
    { text: "{a|(}{b|f}{a|)}", left: 2276, top: 1309, textAlign: "center", textStyle: { fontWeight: "normal", rich: captionRich } },
  ],
  grid: grids,
  xAxis: xAxes.map((a, i) => Object.assign(a, { gridIndex: i })),
  yAxis: yAxes.map((a, i) => Object.assign(a, { gridIndex: i })),
  series: [].concat(contourE, contourF, arrowsF, [ellipseSeries]),
};
option.series.forEach((s, i) => { s.z = i + 2; });

addColorBar(option, [149, 123.5, 72, 1020], barTicksE, barColorsE,
  { text: "{t|Φ}{sub|D}{t|\u200A(\u200A×\u200A1\u200A0}{sup|4}{t|\u200AW\u200A/\u200Am}{sup|3}{t|\u200A)}", gap: -6, size: 82 }, 17);
addColorBar(option, [1600, 116, 75, 1035], barTicksF, barColorsF,
  { text: "{t|Velocity(m/s)}", gap: 5, size: 84, padding: [0, 0, 0, 26] }, 27);

const chart = echarts.init(document.getElementById("chart"), null, { renderer: "canvas" });
chart.setOption(option);
</script>
</body>
</html>
